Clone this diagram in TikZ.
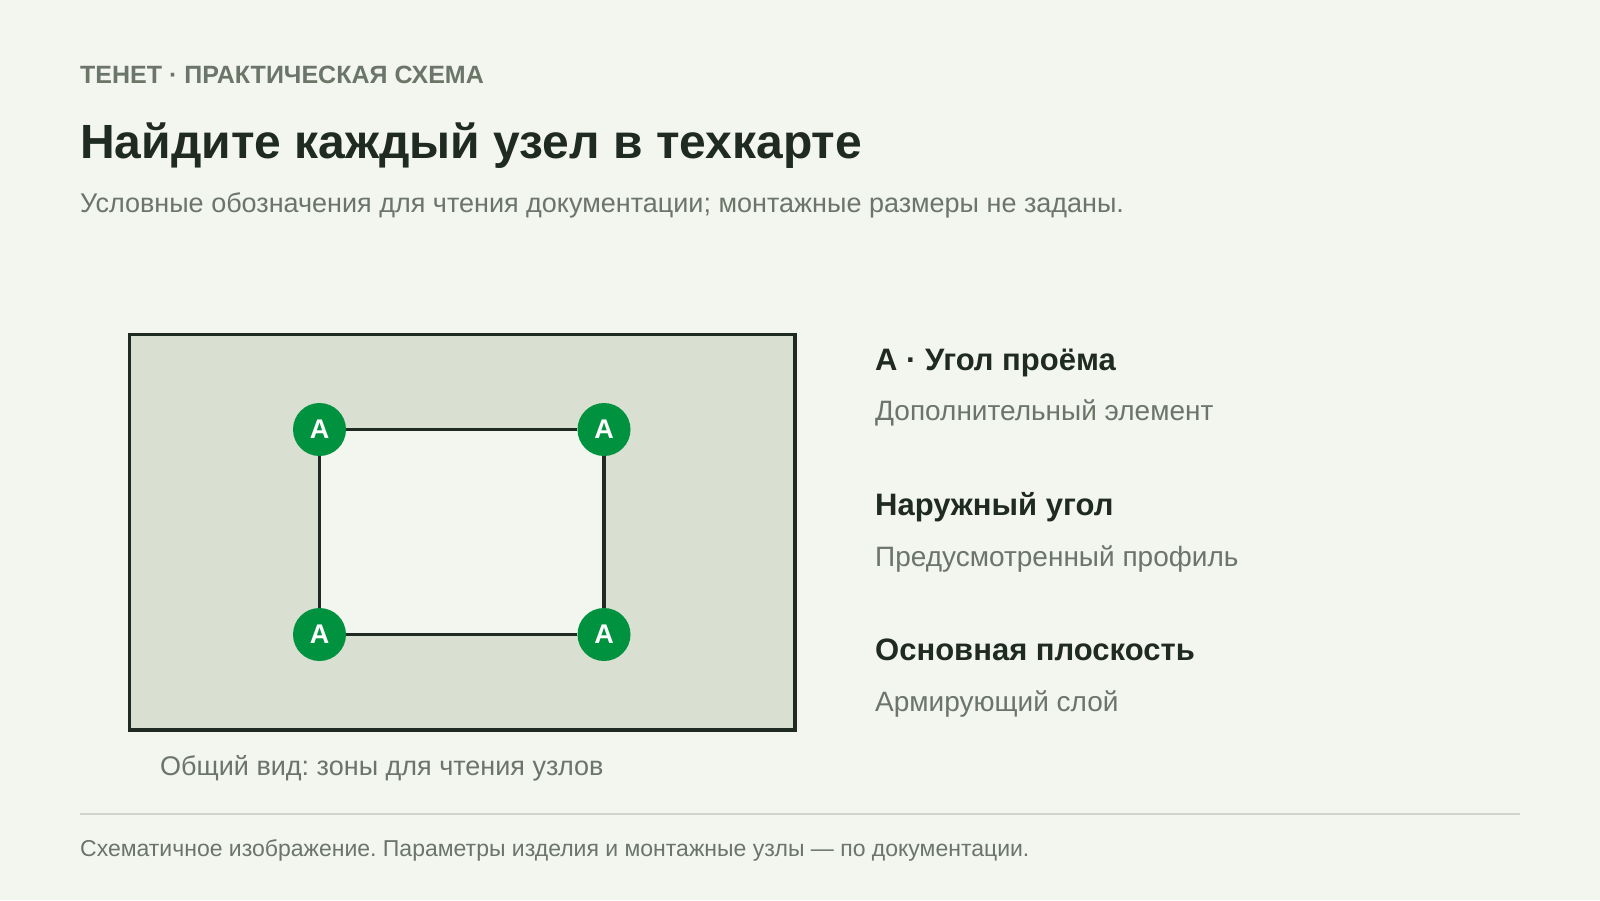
\documentclass[tikz,border=0pt]{standalone}
\usepackage{fontspec}
\setmainfont{Liberation Sans}
\usepackage{xcolor}
\usetikzlibrary{positioning}
\frenchspacing

\definecolor{pagebg}{HTML}{F3F5EF}
\definecolor{ink}{HTML}{1F2A22}
\definecolor{muted}{HTML}{6B7568}
\definecolor{panelfill}{HTML}{D9DFD1}
\definecolor{cornergreen}{HTML}{00923F}
\definecolor{rulegray}{HTML}{D0D5CC}

\tikzset{
  txt/.style={anchor=base west, inner sep=0pt},
  kicker/.style={txt, text=muted, font=\bfseries\fontsize{25}{29}\selectfont},
  headline/.style={txt, text=ink, font=\bfseries\fontsize{48}{54}\selectfont},
  lead/.style={txt, text=muted, font=\fontsize{27}{31}\selectfont},
  itemhead/.style={txt, text=ink, font=\bfseries\fontsize{31}{35}\selectfont},
  itemnote/.style={txt, text=muted, font=\fontsize{28}{32}\selectfont},
  footnote/.style={txt, text=muted, font=\fontsize{23}{27}\selectfont},
  corner/.style={circle, fill=cornergreen, minimum size=53pt, inner sep=0pt,
    text=white, font=\bfseries\fontsize{27}{27}\selectfont},
}

\begin{document}
\begin{tikzpicture}[x=1pt,y=-1pt]
  \fill[pagebg] (0,0) rectangle (1600,900);
  \useasboundingbox (0,0) rectangle (1600,900);

  % Heading
  \node[kicker]   (kick)  at (80,83)  {ТЕНЕТ · ПРАКТИЧЕСКАЯ СХЕМА};
  \node[headline] (title) at (80,158) {Найдите каждый узел в техкарте};
  \node[lead]     (sub)   at (80,212) {Условные обозначения для чтения документации; монтажные размеры не заданы.};

  % Panel
  \draw[ink, line width=3.5pt, fill=panelfill] (129.5,334.5) rectangle (795,730);
  \fill[pagebg] (319.5,429.5) rectangle (604,634.5);
  \node[corner] (tl) at (319.5,429.5) {A};
  \node[corner] (tr) at (604,429.5)   {A};
  \node[corner] (bl) at (319.5,634.5) {A};
  \node[corner] (br) at (604,634.5)   {A};
  \draw[ink, line width=3.5pt] (tl) -- (tr);
  \draw[ink, line width=3.5pt] (tr) -- (br);
  \draw[ink, line width=3.5pt] (br) -- (bl);
  \draw[ink, line width=3.5pt] (bl) -- (tl);
  \node[lead] (cap) at (160,775) {Общий вид: зоны для чтения узлов};

  % Legend
  \node[itemhead] (h1) at (875,370) {A · Угол проёма};
  \node[itemnote] (n1) at (875,420) {Дополнительный элемент};
  \node[itemhead] (h2) at (875,515) {Наружный угол};
  \node[itemnote] (n2) at (875,566) {Предусмотренный профиль};
  \node[itemhead] (h3) at (875,660) {Основная плоскость};
  \node[itemnote] (n3) at (875,711) {Армирующий слой};

  % Footer
  \draw[rulegray, line width=2pt] (80,814) -- (1520,814);
  \node[footnote] (foot) at (80,856) {Схематичное изображение. Параметры изделия и монтажные узлы — по документации.};
\end{tikzpicture}
\end{document}
